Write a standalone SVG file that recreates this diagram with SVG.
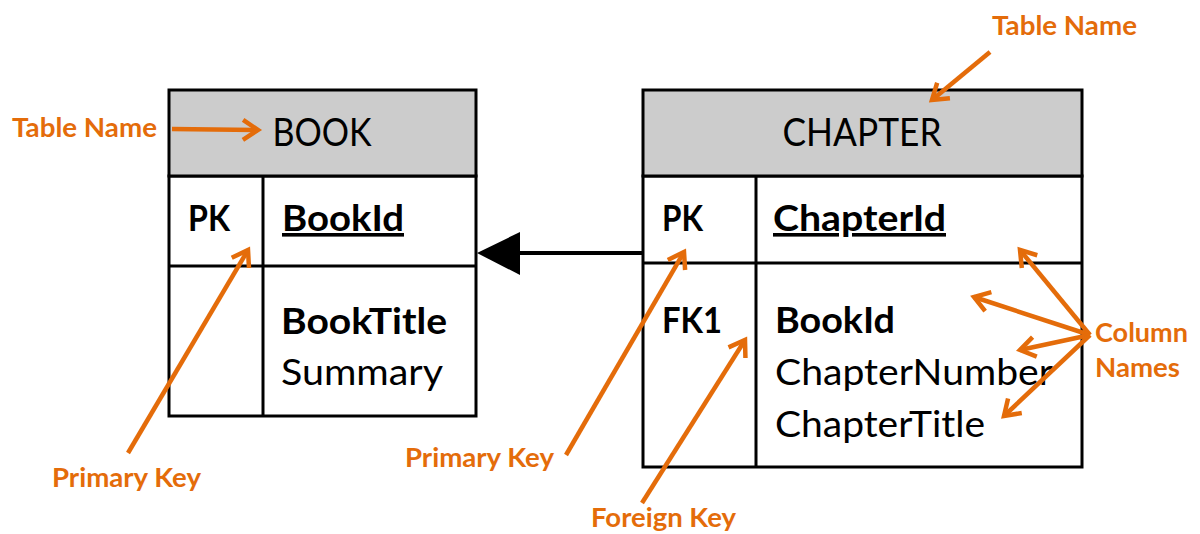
<svg xmlns="http://www.w3.org/2000/svg" width="1200" height="534" viewBox="0 0 1200 534">
<style>
.frame{fill:#fff;stroke:#000;stroke-width:3}
.head{fill:#cccccc;stroke:#000;stroke-width:3}
.ln{stroke:#000;stroke-width:3;fill:none}
.t{font-family:Lato,"Open Sans","Liberation Sans",sans-serif;fill:#000}
.title{font-size:38px}
.b{font-size:36px;font-weight:bold}
.r{font-size:36px}
.u{text-decoration:underline}
.lbl{font-family:Lato,"Open Sans","Liberation Sans",sans-serif;font-weight:bold;font-size:27px;fill:#E46C0A}
.oa{stroke:#E46C0A;stroke-width:4.5;fill:none}
</style>
<defs>
<marker id="ohead" markerUnits="userSpaceOnUse" markerWidth="30" markerHeight="30" viewBox="-20 -15 30 30" refX="0" refY="0" orient="auto">
<path d="M-15,-10 L0,0 L-15,10" fill="none" stroke="#E46C0A" stroke-width="4.5"/>
</marker>
</defs>
<g id="book">
<rect class="frame" x="169" y="176" width="307" height="240"/>
<rect class="head" x="169" y="90" width="307" height="86"/>
<line class="ln" x1="169" y1="266" x2="476" y2="266"/>
<line class="ln" x1="263" y1="176" x2="263" y2="416"/>
<text class="t title" x="322" y="146" text-anchor="middle" textLength="99" lengthAdjust="spacingAndGlyphs">BOOK</text>
<text class="t b" x="188" y="231" textLength="42" lengthAdjust="spacingAndGlyphs">PK</text>
<text class="t b u" x="282" y="231" textLength="122" lengthAdjust="spacingAndGlyphs">BookId</text>
<text class="t b" x="281" y="334" textLength="166" lengthAdjust="spacingAndGlyphs">BookTitle</text>
<text class="t r" x="281" y="385" textLength="162" lengthAdjust="spacingAndGlyphs">Summary</text>
</g>
<g id="chapter">
<rect class="frame" x="643" y="176" width="439" height="291"/>
<rect class="head" x="643" y="90" width="439" height="86"/>
<line class="ln" x1="643" y1="263" x2="1082" y2="263"/>
<line class="ln" x1="756" y1="176" x2="756" y2="467"/>
<text class="t title" x="862" y="146" text-anchor="middle" textLength="159" lengthAdjust="spacingAndGlyphs">CHAPTER</text>
<text class="t b" x="662" y="231" textLength="41" lengthAdjust="spacingAndGlyphs">PK</text>
<text class="t b u" x="773" y="231" textLength="173" lengthAdjust="spacingAndGlyphs">ChapterId</text>
<text class="t b" x="662" y="333" textLength="60" lengthAdjust="spacingAndGlyphs">FK1</text>
<text class="t b" x="775" y="333" textLength="120" lengthAdjust="spacingAndGlyphs">BookId</text>
<text class="t r" x="775" y="385" textLength="278" lengthAdjust="spacingAndGlyphs">ChapterNumber</text>
<text class="t r" x="775" y="437" textLength="210" lengthAdjust="spacingAndGlyphs">ChapterTitle</text>
</g>
<g id="connectors">
<line x1="642" y1="253" x2="515" y2="253" stroke="#000" stroke-width="4"/>
<polygon points="477,253 520,232 520,275" fill="#000"/>
</g>
<g id="annotations">
<text class="lbl" x="12" y="137" textLength="145" lengthAdjust="spacingAndGlyphs">Table Name</text>
<text class="lbl" x="992" y="35" textLength="145" lengthAdjust="spacingAndGlyphs">Table Name</text>
<text class="lbl" x="52" y="487" textLength="149" lengthAdjust="spacingAndGlyphs">Primary Key</text>
<text class="lbl" x="405" y="467" textLength="149" lengthAdjust="spacingAndGlyphs">Primary Key</text>
<text class="lbl" x="591" y="527" textLength="145" lengthAdjust="spacingAndGlyphs">Foreign Key</text>
<text class="lbl" x="1095" y="342" textLength="93" lengthAdjust="spacingAndGlyphs">Column</text>
<text class="lbl" x="1095" y="377" textLength="85" lengthAdjust="spacingAndGlyphs">Names</text>
<line class="oa" x1="172" y1="129" x2="258" y2="130" marker-end="url(#ohead)"/>
<line class="oa" x1="990" y1="52" x2="932" y2="100" marker-end="url(#ohead)"/>
<line class="oa" x1="128" y1="453" x2="248" y2="250" marker-end="url(#ohead)"/>
<line class="oa" x1="566" y1="455" x2="684" y2="252" marker-end="url(#ohead)"/>
<line class="oa" x1="642" y1="503" x2="745" y2="340" marker-end="url(#ohead)"/>
<line class="oa" x1="1090" y1="335" x2="1020" y2="250" marker-end="url(#ohead)"/>
<line class="oa" x1="1090" y1="335" x2="974" y2="297" marker-end="url(#ohead)"/>
<line class="oa" x1="1090" y1="335" x2="1020" y2="350" marker-end="url(#ohead)"/>
<line class="oa" x1="1090" y1="335" x2="1004" y2="416" marker-end="url(#ohead)"/>
</g>
</svg>
